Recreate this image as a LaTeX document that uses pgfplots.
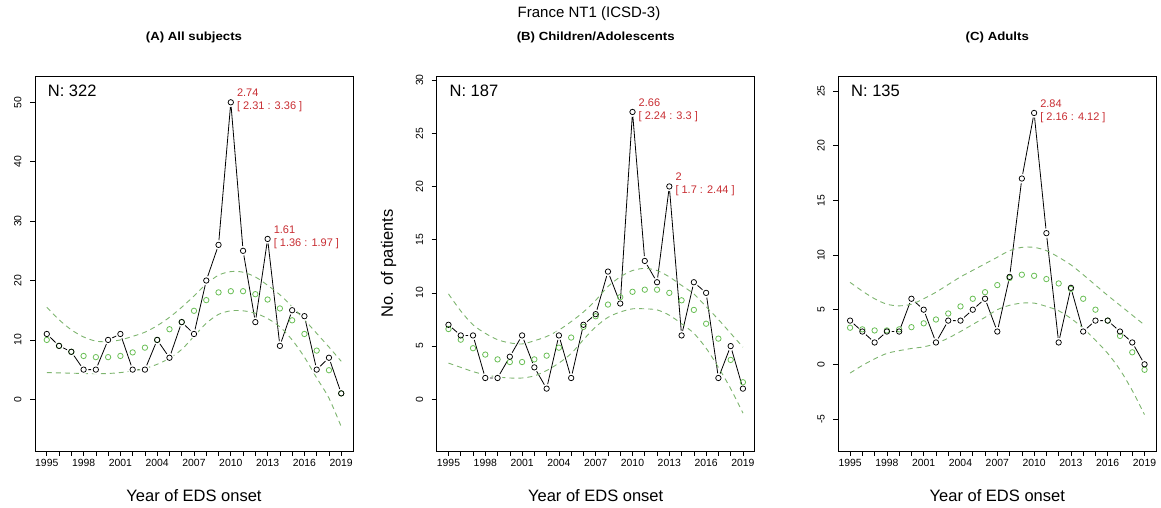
\documentclass[border=0pt]{standalone}
\usepackage{pgfplots}
\pgfplotsset{compat=1.18}
\usepackage{pgfplotstable}
\usepackage{fontspec}
\setmainfont{Liberation Sans}
\definecolor{fitgreen}{RGB}{105,190,85}
\definecolor{cigreen}{RGB}{125,180,110}
\definecolor{annred}{RGB}{200,45,50}
\newcommand\tickfont{\fontsize{10.4}{12}\selectfont}
\newcommand\labfont{\fontsize{16.5}{19}\selectfont}
\newcommand\annfont{\fontsize{11}{13}\selectfont}
\newcommand\subfont{\fontsize{11.8}{13}\selectfont\bfseries}

\pgfplotstableread{
year obs fit up lo
1995 11 10.0 15.5 4.5
1996 9 9.0 13.4 4.45
1997 8 8.0 11.7 4.4
1998 5 7.3 10.5 4.35
1999 5 7.1 9.8 4.3
2000 10 7.1 9.7 4.35
2001 11 7.3 10.0 4.5
2002 5 7.9 10.6 4.8
2003 5 8.7 11.3 5.2
2004 10 10.0 12.4 5.9
2005 7 11.8 13.8 6.9
2006 13 13.0 15.5 8.4
2007 11 14.9 17.4 10.6
2008 20 16.7 19.4 12.8
2009 26 18.0 20.9 14.3
2010 50 18.2 21.5 14.9
2011 25 18.2 21.4 14.9
2012 13 17.7 20.6 14.5
2013 27 16.8 19.2 13.6
2014 9 15.3 17.6 12.2
2015 15 13.3 15.6 10.0
2016 14 11.0 13.4 7.1
2017 5 8.2 11.1 3.6
2018 7 4.9 8.8 0.2
2019 1 1.0 6.4 -4.6
}\dataA

\pgfplotstableread{
year obs fit up lo
1995 7 6.6 9.9 3.4
1996 6 5.6 8.3 3.0
1997 6 4.8 7.0 2.6
1998 2 4.2 6.2 2.3
1999 2 3.75 5.6 2.1
2000 4 3.5 5.3 2.0
2001 6 3.5 5.2 2.0
2002 3 3.75 5.5 2.2
2003 1 4.1 5.9 2.7
2004 6 4.85 6.5 3.4
2005 2 5.8 7.3 4.3
2006 7 6.8 8.2 5.6
2007 8 7.8 9.3 6.8
2008 12 8.9 10.6 7.7
2009 9 9.6 11.5 8.2
2010 27 10.1 12.1 8.5
2011 13 10.3 12.3 8.5
2012 11 10.3 12.1 8.4
2013 20 10.0 11.5 7.9
2014 6 9.3 10.7 7.1
2015 11 8.4 9.9 6.2
2016 10 7.1 8.7 4.8
2017 2 5.7 7.5 3.0
2018 5 3.7 6.2 1.0
2019 1 1.6 4.9 -1.3
}\dataB

\pgfplotstableread{
year obs fit up lo
1995 4 3.35 7.5 -0.8
1996 3 3.2 6.7 -0.1
1997 2 3.1 6.0 0.5
1998 3 3.1 5.5 1.0
1999 3 3.2 5.35 1.25
2000 6 3.4 5.5 1.45
2001 5 3.75 6.0 1.6
2002 2 4.1 6.6 1.9
2003 4 4.65 7.3 2.4
2004 4 5.3 8.0 3.0
2005 5 6.0 8.6 3.65
2006 6 6.6 9.2 4.3
2007 3 7.25 9.8 5.0
2008 8 7.9 10.4 5.4
2009 17 8.2 10.7 5.6
2010 23 8.1 10.7 5.6
2011 12 7.8 10.4 5.3
2012 2 7.4 9.8 4.9
2013 7 6.9 9.1 4.2
2014 3 6.0 8.2 3.3
2015 4 5.0 7.25 2.2
2016 4 4.0 6.3 1.0
2017 3 2.6 5.4 -0.5
2018 2 1.1 4.5 -2.4
2019 0 -0.5 3.6 -4.6
}\dataC

\tikzset{
  ann/.style={anchor=west, align=left, font=\annfont, text=annred, inner sep=0pt, xshift=6pt, yshift=2pt},
  nlab/.style={anchor=base west, font=\labfont, inner sep=0pt},
}
\pgfplotsset{
  rplot/.style={
    scale only axis, width=318pt, height=375pt,
    xmin=1994.04, xmax=2019.96,
    axis line style={black, line width=0.8pt},
    tick align=outside, tick pos=left,
    major tick length=5pt,
    every tick/.style={black, line width=0.6pt},
    xtick={1995,...,2019},
    xticklabels={1995,{},{},1998,{},{},2001,{},{},2004,{},{},2007,{},{},2010,{},{},2013,{},{},2016,{},{},2019},
    xticklabel style={font=\tickfont},
    yticklabel style={font=\tickfont, xshift=-5pt, rotate=90, anchor=south},
    /pgf/number format/assume math mode=true,
    xlabel={Year of EDS onset},
    every axis x label/.style={at={(axis description cs:0.5,-0.12)}, anchor=center, font=\labfont},
    every axis y label/.style={at={(axis description cs:-0.151,0.5)}, anchor=center, rotate=90, font=\labfont},
    title style={at={(axis description cs:0.5,1.088)}, anchor=center, font=\subfont},
    clip=true,
  },
  obsline/.style={black, line width=0.8pt, no markers},
  halo/.style={only marks, mark=*, mark size=4.6pt, white, mark options={draw=white, fill=white}},
  ciline/.style={cigreen, line width=0.9pt, dash pattern=on 5pt off 4pt, smooth, no markers},
  fitpts/.style={only marks, mark=o, mark size=2.7pt, fitgreen, mark options={line width=0.8pt}},
  obspts/.style={only marks, mark=o, mark size=2.7pt, black, mark options={line width=0.75pt}},
}

\begin{document}
\begin{tikzpicture}
\useasboundingbox (0,0) rectangle (1161pt,508pt);
\node[font=\fontsize{15}{18}\selectfont] at (589pt,494pt) {France NT1 (ICSD-3)};

% (A)
\begin{axis}[rplot, at={(35pt,57pt)}, anchor=south west,
  ymin=-8.7, ymax=54.43, ytick={0,10,20,30,40,50},
  title={\scalebox{1.12}[1]{(A) All subjects}}]
\addplot[obsline] table[x=year,y=obs]{\dataA};
\addplot[halo] table[x=year,y=obs]{\dataA};
\addplot[ciline] table[x=year,y=up]{\dataA};
\addplot[ciline] table[x=year,y=lo]{\dataA};
\addplot[fitpts] table[x=year,y=fit]{\dataA};
\addplot[obspts] table[x=year,y=obs]{\dataA};
\node[nlab] at (rel axis cs:0.04,0.944) {N: 322};
\node[ann] at (axis cs:2010,50) {2.74\\{[} 2.31 : 3.36 ]};
\node[ann] at (axis cs:2013,27) {1.61\\{[} 1.36 : 1.97 ]};
\end{axis}

% (B)
\begin{axis}[rplot, at={(436.7pt,57pt)}, anchor=south west,
  ymin=-4.86, ymax=30.38, ytick={0,5,10,15,20,25,30},
  ylabel={No. of patients},
  title={\scalebox{1.12}[1]{(B) Children/Adolescents}}]
\addplot[obsline] table[x=year,y=obs]{\dataB};
\addplot[halo] table[x=year,y=obs]{\dataB};
\addplot[ciline] table[x=year,y=up]{\dataB};
\addplot[ciline] table[x=year,y=lo]{\dataB};
\addplot[fitpts] table[x=year,y=fit]{\dataB};
\addplot[obspts] table[x=year,y=obs]{\dataB};
\node[nlab] at (rel axis cs:0.04,0.944) {N: 187};
\node[ann] at (axis cs:2010,27) {2.66\\{[} 2.24 : 3.3 ]};
\node[ann] at (axis cs:2013,20) {2\\{[} 1.7 : 2.44 ]};
\end{axis}

% (C)
\begin{axis}[rplot, at={(838.3pt,57pt)}, anchor=south west,
  ymin=-7.93, ymax=26.38, ytick={-5,0,5,10,15,20,25},
  title={\scalebox{1.12}[1]{(C) Adults}}]
\addplot[obsline] table[x=year,y=obs]{\dataC};
\addplot[halo] table[x=year,y=obs]{\dataC};
\addplot[ciline] table[x=year,y=up]{\dataC};
\addplot[ciline] table[x=year,y=lo]{\dataC};
\addplot[fitpts] table[x=year,y=fit]{\dataC};
\addplot[obspts] table[x=year,y=obs]{\dataC};
\node[nlab] at (rel axis cs:0.04,0.944) {N: 135};
\node[ann] at (axis cs:2010,23) {2.84\\{[} 2.16 : 4.12 ]};
\end{axis}
\end{tikzpicture}
\end{document}
